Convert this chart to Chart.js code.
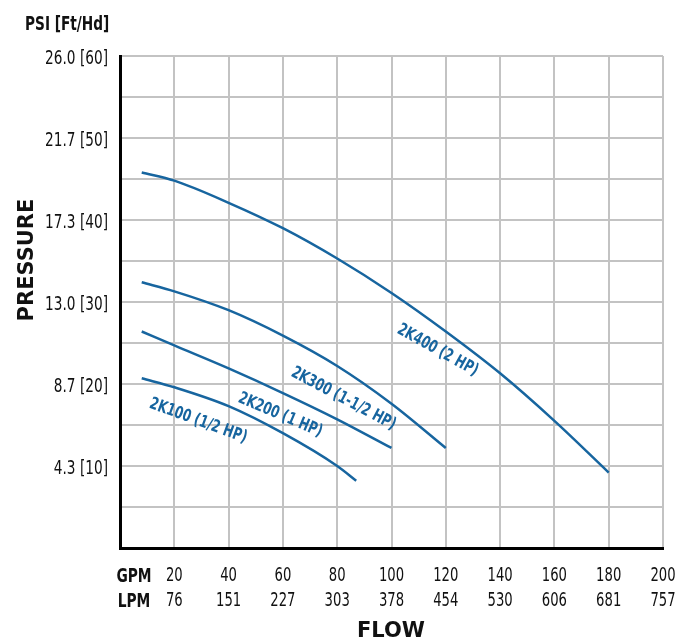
<!DOCTYPE html>
<html>
<head>
<meta charset="utf-8">
<script src="https://cdn.jsdelivr.net/npm/chart.js@4/dist/chart.umd.min.js"></script>
<style>
  html, body { margin: 0; padding: 0; background: #fff; }
  #wrap { width: 690px; height: 639px; }
</style>
</head>
<body>
<div id="wrap"><canvas id="pumpChart" width="690" height="639"></canvas></div>
<script>
// axis ticks
const gpmTicks = [20, 40, 60, 80, 100, 120, 140, 160, 180, 200];
const lpmTicks = [76, 151, 227, 303, 378, 454, 530, 606, 681, 757];
const ftTicks = [10, 20, 30, 40, 50, 60];
const psiTicks = ['4.3', '8.7', '13.0', '17.3', '21.7', '26.0'];

// pump curves, flow in GPM, head in ft
const names = ['2K100 (1/2 HP)', '2K200 (1 HP)', '2K300 (1-1/2 HP)', '2K400 (2 HP)'];

const k100Gpm = [8, 20, 40, 60, 80, 87];
const k100Ft  = [20.7, 19.6, 17.3, 14.0, 10.0, 8.2];

const k200Gpm = [8, 20, 40, 60, 80, 100];
const k200Ft  = [26.4, 24.7, 21.9, 18.9, 15.7, 12.2];

const k300Gpm = [8, 20, 40, 60, 80, 100, 120];
const k300Ft  = [32.4, 31.3, 29.0, 25.9, 22.2, 17.6, 12.2];

const k400Gpm = [8, 20, 40, 60, 80, 100, 120, 140, 160, 180];
const k400Ft  = [45.8, 44.8, 42.1, 39.0, 35.3, 31.1, 26.4, 21.3, 15.5, 9.2];

// where each curve name sits (GPM, ft) and its slant
const labelGpm = [28.8, 59.0, 82.3, 117];
const labelFt  = [15.5, 16.2, 18.2, 24.1];
const labelAngle = [20, 23, 28, 29];

const BLUE = '#17659f';
const INK = '#111';
const FAM = "'DejaVu Sans', 'Liberation Sans', sans-serif";

function pts(xs, ys) {
  return xs.map((x, i) => ({ x: x, y: ys[i] }));
}

function curve(xs, ys) {
  return {
    data: pts(xs, ys),
    showLine: true,
    borderColor: BLUE,
    borderWidth: 2.5,
    pointRadius: 0,
    cubicInterpolationMode: 'monotone',
    fill: false
  };
}

// no condensed face installed, so squeeze the text horizontally
function squeezed(ctx, s, x, y, font, align, sx, angle) {
  ctx.save();
  ctx.translate(x, y);
  if (angle) ctx.rotate(angle * Math.PI / 180);
  ctx.scale(sx, 1);
  ctx.font = font;
  ctx.textAlign = align;
  ctx.fillText(s, 0, 0);
  ctx.restore();
}

const textPlugin = {
  id: 'textPlugin',
  afterDraw(chart) {
    const ctx = chart.ctx;
    const xs = chart.scales.x, ys = chart.scales.y;
    ctx.save();
    ctx.textBaseline = 'alphabetic';
    ctx.fillStyle = INK;

    // y tick labels
    ys.ticks.forEach(t => {
      const i = ftTicks.indexOf(t.value);
      if (i < 0) return;
      const py = ys.getPixelForValue(t.value);
      squeezed(ctx, psiTicks[i] + ' [' + t.value + ']', 108, py + 7.5, '19px ' + FAM, 'right', 0.72);
    });

    // x tick labels, GPM over LPM
    xs.ticks.forEach(t => {
      const i = gpmTicks.indexOf(t.value);
      if (i < 0) return;
      const px = xs.getPixelForValue(t.value);
      squeezed(ctx, String(gpmTicks[i]), px, 581, '20px ' + FAM, 'center', 0.66);
      squeezed(ctx, String(lpmTicks[i]), px, 606, '20px ' + FAM, 'center', 0.66);
    });
    squeezed(ctx, 'GPM', 134, 582, 'bold 20px ' + FAM, 'center', 0.69);
    squeezed(ctx, 'LPM', 134, 607, 'bold 20px ' + FAM, 'center', 0.69);
    squeezed(ctx, 'PSI [Ft/Hd]', 25, 30, 'bold 19px ' + FAM, 'left', 0.72);

    // axis titles
    ctx.font = 'bold 21px ' + FAM;
    ctx.textAlign = 'center';
    ctx.fillText('FLOW', 391, 637);
    ctx.save();
    ctx.translate(33, 260);
    ctx.rotate(-Math.PI / 2);
    ctx.fillText('PRESSURE', 0, 0);
    ctx.restore();

    // curve names
    ctx.fillStyle = BLUE;
    ctx.textBaseline = 'middle';
    names.forEach((n, i) => {
      squeezed(ctx, n, xs.getPixelForValue(labelGpm[i]), ys.getPixelForValue(labelFt[i]),
        'bold 17px ' + FAM, 'center', 0.71, labelAngle[i]);
    });

    ctx.restore();
  }
};

const ctx = document.getElementById('pumpChart').getContext('2d');
new Chart(ctx, {
  type: 'scatter',
  data: {
    datasets: [
      curve(k100Gpm, k100Ft),
      curve(k200Gpm, k200Ft),
      curve(k300Gpm, k300Ft),
      curve(k400Gpm, k400Ft)
    ]
  },
  options: {
    responsive: false,
    animation: false,
    layout: { padding: { top: 56, right: 27, left: 0, bottom: 0 } },
    plugins: {
      legend: { display: false },
      tooltip: { enabled: false }
    },
    scales: {
      x: {
        type: 'linear',
        min: 0,
        max: 200,
        afterFit: s => { s.height = 91; },
        grid: { color: '#c3c3c3', lineWidth: 2, drawTicks: false },
        border: { color: '#000', width: 3 },
        ticks: { stepSize: 20, display: false }
      },
      y: {
        type: 'linear',
        min: 0,
        max: 60,
        afterFit: s => { s.width = 120; },
        grid: { color: '#c3c3c3', lineWidth: 2, drawTicks: false },
        border: { color: '#000', width: 3 },
        ticks: { stepSize: 5, display: false }
      }
    }
  },
  plugins: [textPlugin]
});
</script>
</body>
</html>
